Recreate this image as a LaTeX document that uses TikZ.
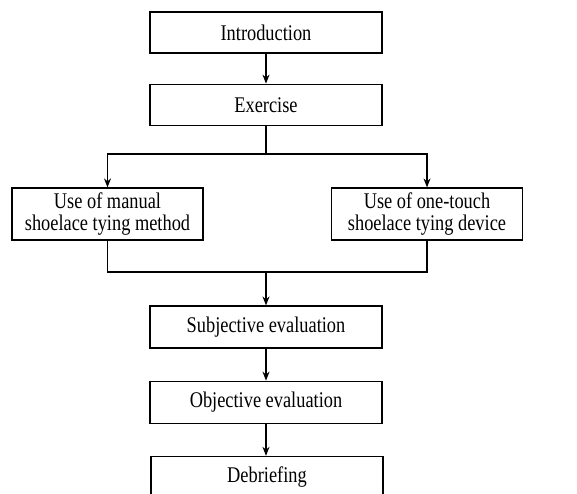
\documentclass[tikz,border=0pt]{standalone}
\usepackage{fontspec}
\setmainfont{Liberation Serif}[FakeStretch=0.82]
\usetikzlibrary{arrows.meta, positioning}

\begin{document}
\begin{tikzpicture}[
    x=1pt, y=-1pt,
    node distance=30pt,
    stepbox/.style={rectangle, draw, line width=1.2pt, minimum width=232pt, minimum height=41pt, inner sep=2pt, align=center, font=\fontsize{22.4}{21.5}\selectfont},
    sidebox/.style={stepbox, minimum width=191pt, minimum height=52pt},
    arrow/.style={line width=1.2pt, -{Stealth[length=9pt, width=7pt]}},
    link/.style={line width=1.2pt}
]
    \useasboundingbox (0,0) rectangle (577,493);
    \clip (0,0) rectangle (577,493);

    \node (intro) [stepbox] at (266,32.5) {Introduction};
    \node (exer)  [stepbox, below=of intro] {Exercise};
    \node (manual)[sidebox] at (107.5,214) {Use of manual\\shoelace tying method};
    \node (device)[sidebox] at (427,214) {Use of one-touch\\shoelace tying device};
    \node (subj)  [stepbox, minimum height=42pt] at (266,327) {Subjective evaluation};
    \node (obj)   [stepbox, minimum height=42pt, below=32pt of subj] {Objective evaluation};
    \node (debrief)[stepbox, minimum height=42pt, below=32pt of obj, xshift=1pt] {Debriefing};

    \coordinate (split) at (266,154);
    \coordinate (merge) at (266,272);

    \draw [arrow] (intro) -- (exer);
    \draw [link]  (exer.south) -- (split);
    \draw [arrow] (split) -| (manual.north);
    \draw [arrow] (split) -| (device.north);
    \draw [link]  (manual.south) |- (merge);
    \draw [link]  (device.south) |- (merge);
    \draw [arrow] (merge) -- (subj.north);
    \draw [arrow] (subj) -- (obj);
    \draw [arrow] (obj) -- (debrief.north -| obj);
\end{tikzpicture}
\end{document}
